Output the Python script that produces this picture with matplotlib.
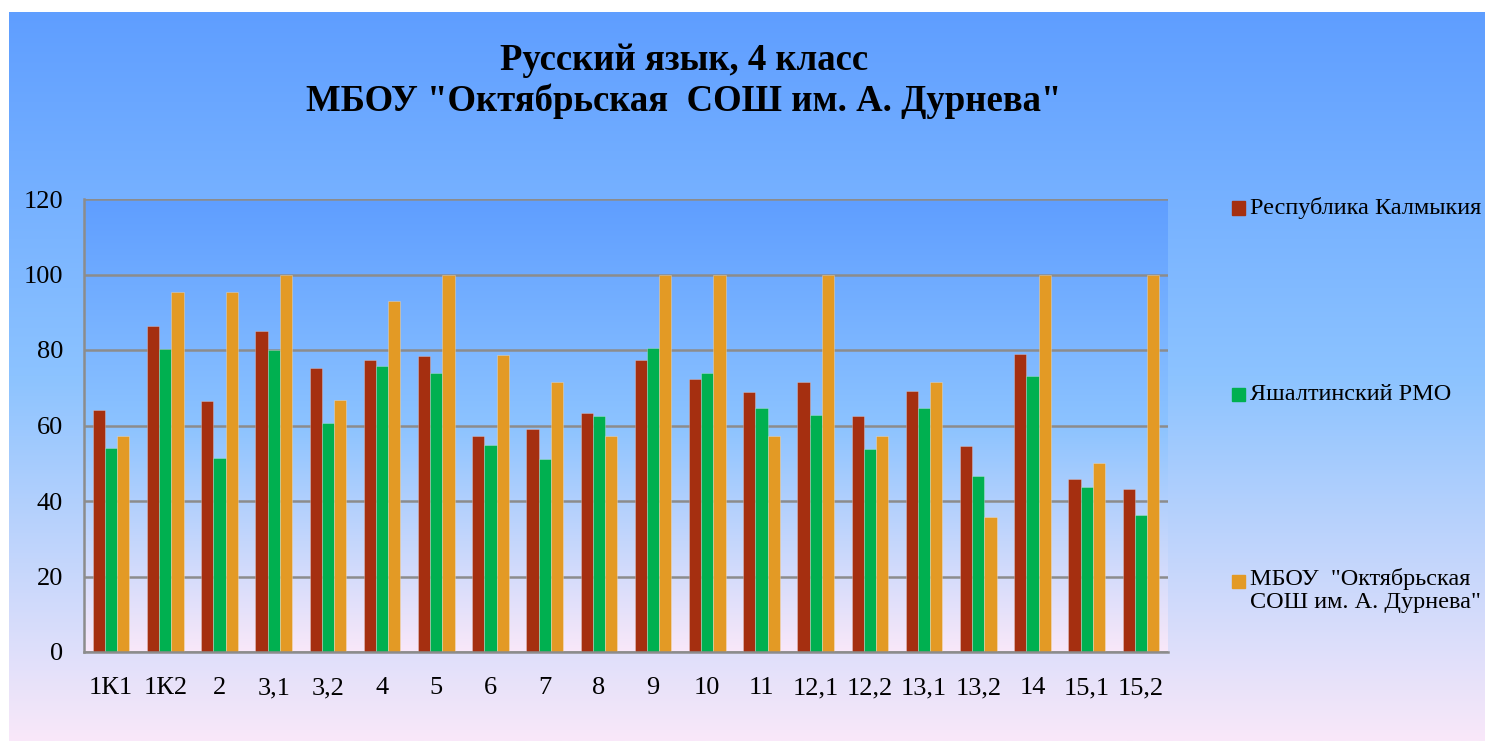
import numpy as np
import matplotlib
matplotlib.use("Agg")
import matplotlib.pyplot as plt
from matplotlib.colors import LinearSegmentedColormap
from matplotlib.patches import Rectangle

categories = ["1К1", "1К2", "2", "3,1", "3,2", "4", "5", "6", "7", "8",
              "9", "10", "11", "12,1", "12,2", "13,1", "13,2", "14", "15,1", "15,2"]
kalmykia = [64.1, 86.4, 66.4, 85.0, 75.1, 77.3, 78.4, 57.2, 59.2, 63.4,
            77.3, 72.3, 68.8, 71.6, 62.6, 69.2, 54.6, 79.0, 45.7, 43.3]
yashalta = [54.0, 80.2, 51.4, 80.0, 60.7, 75.8, 73.8, 54.8, 51.0, 62.5,
            80.4, 73.8, 64.6, 62.7, 53.7, 64.6, 46.6, 73.1, 43.7, 36.4]
school = [57.14, 95.24, 95.24, 100, 66.67, 92.86, 100, 78.57, 71.43, 57.14,
          100, 100, 57.14, 100, 57.14, 71.43, 35.71, 100, 50, 100]
series_names = ["Республика Калмыкия", "Яшалтинский РМО",
                "МБОУ  \"Октябрьская\nСОШ им. А. Дурнева\""]
colors = ["#A52F10", "#00B050", "#E39A25"]
title = "Русский язык, 4 класс\nМБОУ \"Октябрьская  СОШ им. А. Дурнева\""
yticks = [0, 20, 40, 60, 80, 100, 120]

plt.rcParams['font.family'] = ['Liberation Serif', 'DejaVu Serif']

W, H = 1485, 741
fig = plt.figure(figsize=(W / 100, H / 100), dpi=100)
fig.patch.set_facecolor("white")

grad = LinearSegmentedColormap.from_list(
    "bg", [(0.0, (95/255, 158/255, 255/255)),
           (0.5, (140/255, 195/255, 255/255)),
           (1.0, (249/255, 232/255, 249/255))])
g = np.linspace(0, 1, 256).reshape(-1, 1)

# chart background
bg = fig.add_axes([9 / W, 0, 1 - 9 / W, 1 - 12 / H], zorder=-10)
bg.imshow(g, aspect="auto", cmap=grad, extent=[0, 1, 0, 1], origin="upper")
bg.set_axis_off()

# plot area
left, right, top, bottom = 84, 1168, 199, 652
ax = fig.add_axes([left / W, 1 - bottom / H, (right - left) / W, (bottom - top) / H])
n = len(categories)
x = np.arange(n)
ax.set_xlim(-0.5, n - 0.5)
ax.set_ylim(0, 120)
ax.imshow(g, aspect="auto", cmap=grad, extent=[-0.5, n - 0.5, 0, 120],
          origin="upper", zorder=0)

w = 0.225
for k, (vals, c) in enumerate(zip([kalmykia, yashalta, school], colors)):
    ax.bar(x + (k - 1) * w, vals, width=w, color=c, zorder=3,
           edgecolor=(1, 1, 1, 0.3), linewidth=0.6)

ax.set_yticks(yticks)
ax.yaxis.grid(True, color="#8C8C8C", linewidth=1.8, zorder=1)
ax.set_axisbelow(True)
ax.set_xticks(x)
ax.set_xticklabels(categories)
ax.tick_params(axis="both", length=0, labelsize=19, colors="black")
ax.tick_params(axis="y", pad=15)
ax.tick_params(axis="x", pad=18)
for s in ["top", "right"]:
    ax.spines[s].set_visible(False)
for s in ["left", "bottom"]:
    ax.spines[s].set_color("#8C8C8C")
    ax.spines[s].set_linewidth(1.8)
    ax.spines[s].set_zorder(4)

# title
fig.text(684 / W, 1 - 81 / H, title, ha="center", va="center",
         fontsize=26.5, fontweight="bold", linespacing=1.2)

# legend
leg_y = [208, 394, 581]
for name, c, yy in zip(series_names, colors, leg_y):
    fig.patches.append(Rectangle((1232 / W, 1 - (yy + 6.5) / H), 13 / W, 13 / H,
                                 transform=fig.transFigure, color=c))
    if "\n" in name:
        fig.text(1250 / W, 1 - (yy - 13) / H, name, ha="left", va="top",
                 fontsize=17.5, linespacing=1.15)
    else:
        fig.text(1250 / W, 1 - yy / H, name, ha="left", va="center", fontsize=17.5)

fig.savefig("out.png", dpi=100)
